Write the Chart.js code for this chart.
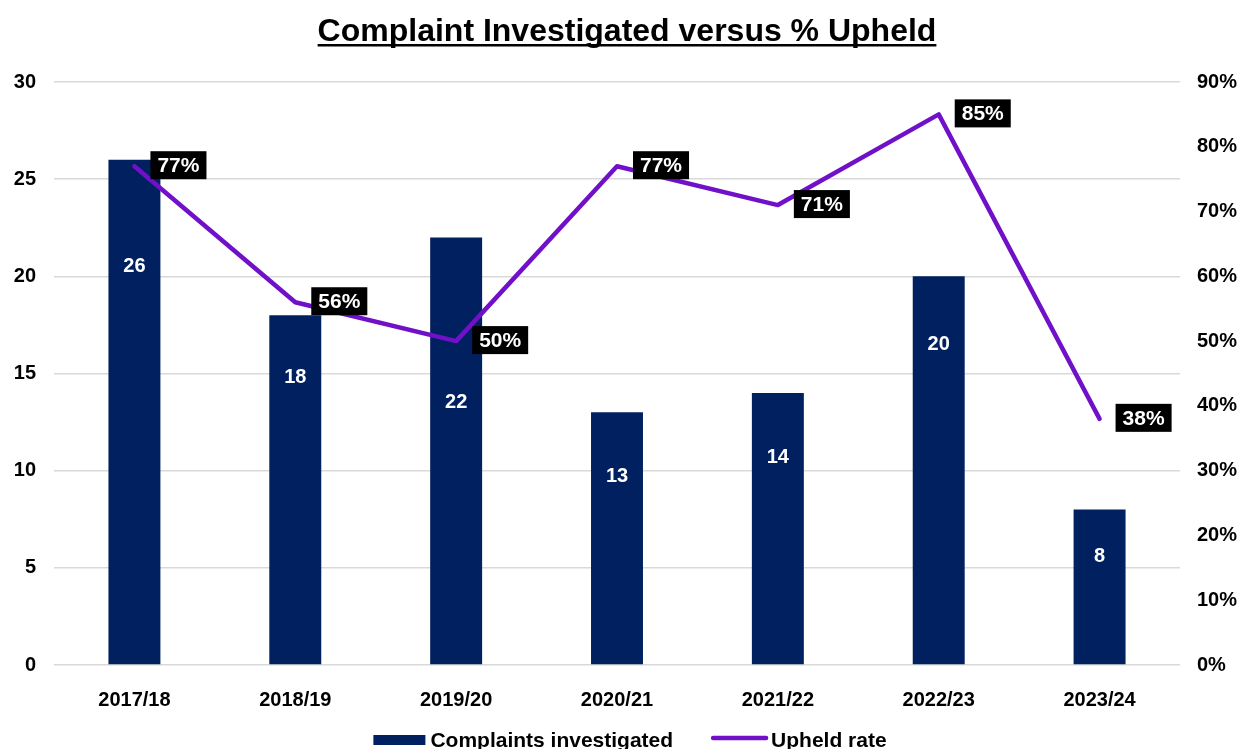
<!DOCTYPE html>
<html>
<head>
<meta charset="utf-8">
<script src="https://cdn.jsdelivr.net/npm/chart.js@4.4.1/dist/chart.umd.min.js"></script>
<style>
  body { margin: 0; background: #fff; }
  #wrap { width: 1243px; height: 749px; }
</style>
</head>
<body>
<div id="wrap"><canvas id="myChart" width="1243" height="749"></canvas></div>
<script>
const chartTitle = 'Complaint Investigated versus % Upheld';
const years = ['2017/18', '2018/19', '2019/20', '2020/21', '2021/22', '2022/23', '2023/24'];
const complaints = [26, 18, 22, 13, 14, 20, 8];
const upheldPct = [77, 56, 50, 77, 71, 85, 38];
const leftTicks = [0, 5, 10, 15, 20, 25, 30];
const rightTicks = [0, 10, 20, 30, 40, 50, 60, 70, 80, 90];

const FONT = '"Liberation Sans", Arial, sans-serif';
const NAVY = '#002060';
const PURPLE = '#7010c8';

// where the white count labels sit inside each bar (in axis units)
const barLabelAt = [20.5, 14.8, 13.5, 9.7, 10.7, 16.5, 5.6];

const labelsPlugin = {
    id: 'labelsPlugin',
    afterDatasetsDraw(chart) {
        const ctx = chart.ctx;
        const yL = chart.scales.y;
        ctx.save();

        // counts inside bars
        const barMeta = chart.getDatasetMeta(0);
        ctx.font = 'bold 20px ' + FONT;
        ctx.fillStyle = '#fff';
        ctx.textAlign = 'center';
        ctx.textBaseline = 'middle';
        barMeta.data.forEach((bar, i) => {
            ctx.fillText(String(complaints[i]), bar.x, yL.getPixelForValue(barLabelAt[i]));
        });

        // percentage boxes next to the line points
        const lineMeta = chart.getDatasetMeta(1);
        ctx.font = 'bold 21px ' + FONT;
        ctx.textAlign = 'left';
        lineMeta.data.forEach((pt, i) => {
            const txt = upheldPct[i] + '%';
            const w = ctx.measureText(txt).width + 14;
            const h = 28;
            const x0 = pt.x + 16;
            const y0 = pt.y - h / 2 - 1;
            ctx.fillStyle = '#000';
            ctx.fillRect(x0, y0, w, h);
            ctx.fillStyle = '#fff';
            ctx.fillText(txt, x0 + 7, y0 + h / 2 + 1);
        });
        ctx.restore();
    },
    afterDraw(chart) {
        const ctx = chart.ctx;
        ctx.save();

        // title with underline
        ctx.font = 'bold 32px ' + FONT;
        ctx.fillStyle = '#000';
        ctx.textAlign = 'center';
        ctx.textBaseline = 'alphabetic';
        const tx = 627;
        ctx.fillText(chartTitle, tx, 41);
        const tw = ctx.measureText(chartTitle).width;
        ctx.fillRect(tx - tw / 2, 44, tw, 2.5);

        // legend
        ctx.font = 'bold 21px ' + FONT;
        ctx.textAlign = 'left';
        ctx.textBaseline = 'middle';
        const ds = chart.data.datasets;
        const w1 = ctx.measureText(ds[0].label).width;
        const w2 = ctx.measureText(ds[1].label).width;
        const total = 52 + 5 + w1 + 38 + 57 + 3 + w2;
        let x = 630 - total / 2;
        const ly = 740;
        ctx.fillStyle = NAVY;
        ctx.fillRect(x, ly - 5, 52, 10);
        x += 57;
        ctx.fillStyle = '#000';
        ctx.fillText(ds[0].label, x, ly + 1);
        x += w1 + 38;
        ctx.strokeStyle = PURPLE;
        ctx.lineWidth = 4.5;
        ctx.lineCap = 'round';
        ctx.beginPath();
        ctx.moveTo(x + 2, ly - 2);
        ctx.lineTo(x + 55, ly - 2);
        ctx.stroke();
        x += 60;
        ctx.fillText(ds[1].label, x, ly + 1);
        ctx.restore();
    }
};

const ctx = document.getElementById('myChart').getContext('2d');
const myChart = new Chart(ctx, {
    type: 'bar',
    data: {
        labels: years,
        datasets: [{
            type: 'bar',
            label: 'Complaints investigated',
            data: complaints,
            backgroundColor: NAVY,
            borderWidth: 0,
            categoryPercentage: 1,
            barPercentage: 0.323,
            yAxisID: 'y',
            order: 1
        }, {
            type: 'line',
            label: 'Upheld rate',
            data: upheldPct,
            borderColor: PURPLE,
            backgroundColor: PURPLE,
            borderWidth: 4.5,
            borderJoinStyle: 'round',
            borderCapStyle: 'round',
            pointRadius: 0,
            tension: 0,
            yAxisID: 'y1',
            order: 0
        }]
    },
    options: {
        responsive: false,
        animation: false,
        layout: { padding: { top: 82, bottom: 0, left: 0, right: 0 } },
        plugins: {
            legend: { display: false },
            title: { display: false },
            tooltip: { enabled: false }
        },
        scales: {
            x: {
                grid: { display: false },
                border: { display: false },
                ticks: {
                    padding: 15,
                    color: '#000',
                    font: { family: FONT, size: 20, weight: 'bold' }
                },
                afterFit(scale) { scale.height = 84; }
            },
            y: {
                position: 'left',
                min: 0,
                max: 30,
                afterBuildTicks(scale) { scale.ticks = leftTicks.map(v => ({ value: v })); },
                grid: { color: '#d9d9d9', lineWidth: 1.5, drawTicks: false },
                border: { display: false },
                ticks: {
                    padding: 18,
                    color: '#000',
                    font: { family: FONT, size: 20, weight: 'bold' }
                },
                afterFit(scale) { scale.width = 54; }
            },
            y1: {
                position: 'right',
                min: 0,
                max: 90,
                afterBuildTicks(scale) { scale.ticks = rightTicks.map(v => ({ value: v })); },
                grid: { display: false, drawTicks: false },
                border: { display: false },
                ticks: {
                    padding: 17,
                    color: '#000',
                    font: { family: FONT, size: 20, weight: 'bold' },
                    callback: v => v + '%'
                },
                afterFit(scale) { scale.width = 63; }
            }
        }
    },
    plugins: [labelsPlugin]
});
</script>
</body>
</html>
